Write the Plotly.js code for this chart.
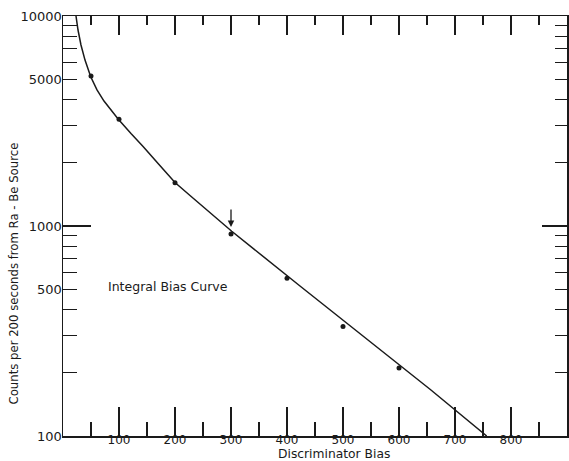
<!DOCTYPE html>
<html>
<head>
<meta charset="utf-8">
<script src="https://cdn.plot.ly/plotly-3.0.1.min.js"></script>
<style>
html,body{margin:0;padding:0;background:#fff;}
#chart{width:569px;height:461px;}
</style>
</head>
<body>
<div id="chart"></div>
<script>
// Measured data points
const biasPoints = [50, 100, 200, 300, 400, 500, 600];
const countPoints = [5180, 3220, 1607, 916, 564, 332, 211];
// Hand-drawn fitted curve
const curveBias = [23.2, 26.8, 32.1, 39.3, 49.5, 60.7, 73.2, 85.7, 98.8, 121.4, 143.4, 171.4, 200, 226.8, 250.5, 275, 301.3, 423.2, 655.4, 756.6];
const curveCounts = [10000, 8577, 7276, 6166, 5140, 4446, 3936, 3548, 3221, 2754, 2386, 1963, 1611, 1397, 1236, 1082, 944, 518, 167, 100];
// Axis ticks
const xMajor = [100, 200, 300, 400, 500, 600, 700, 800];
const xMajorLabels = ['100', '200', '300', '400', '500', '600', '700', '800'];
const yTicks = [100, 200, 300, 400, 500, 600, 700, 800, 900, 1000, 2000, 3000, 4000, 5000, 6000, 7000, 8000, 9000, 10000];
const yTickLabels = ['100', '', '', '', '500', '', '', '', '', '1000', '', '', '', '5000', '', '', '', '', '10000'];
const yLong = [1000];
const arrowBias = 300;
const arrowCount = 990;

const ink = '#1a1a1a';
const fontFam = 'DejaVu Sans, sans-serif';

const traces = [
  {x: curveBias, y: curveCounts, mode: 'lines', line: {color: ink, width: 1.5}, xaxis: 'x', yaxis: 'y', hoverinfo: 'skip'},
  {x: biasPoints, y: countPoints, mode: 'markers', marker: {color: ink, size: 5}, xaxis: 'x', yaxis: 'y'},
  {x: [], y: [], xaxis: 'x2', yaxis: 'y2', mode: 'markers'},
  {x: [], y: [], xaxis: 'x', yaxis: 'y3', mode: 'markers'},
  {x: [], y: [], xaxis: 'x2', yaxis: 'y4', mode: 'markers'}
];

const yBase = {type: 'log', range: [2, 4], fixedrange: true, showgrid: false, zeroline: false};

const layout = {
  width: 569, height: 461,
  margin: {l: 63, r: 2, t: 16, b: 25},
  paper_bgcolor: '#fff', plot_bgcolor: '#fff',
  showlegend: false,
  font: {family: fontFam, color: ink, size: 13},
  xaxis: {
    range: [0, 900], showgrid: false, zeroline: false,
    showline: true, linecolor: ink, linewidth: 1.5,
    ticks: 'inside', tickmode: 'array', tickvals: xMajor, ticktext: xMajorLabels,
    ticklen: 29, tickwidth: 1.3, tickcolor: ink, ticklabelstandoff: -8,
    minor: {ticks: 'inside', tickmode: 'linear', tick0: 0, dtick: 50, ticklen: 14, tickwidth: 1.2, tickcolor: ink},
    tickfont: {size: 12, family: fontFam, color: ink}
  },
  xaxis2: {
    overlaying: 'x', side: 'top', anchor: 'y2', range: [0, 900], showgrid: false, zeroline: false,
    showline: true, linecolor: ink, linewidth: 1.5,
    ticks: 'inside', tickmode: 'array', tickvals: xMajor, ticklen: 19, tickwidth: 1.3, tickcolor: ink,
    minor: {ticks: 'inside', tickmode: 'linear', tick0: 0, dtick: 50, ticklen: 9, tickwidth: 1.2, tickcolor: ink},
    showticklabels: false
  },
  yaxis: Object.assign({}, yBase, {
    showline: true, linecolor: ink, linewidth: 1.5,
    ticks: 'inside', tickmode: 'array', tickvals: yTicks, ticktext: yTickLabels,
    ticklen: 14, tickwidth: 1.3, tickcolor: ink, ticklabelstandoff: -3,
    tickfont: {size: 13, family: fontFam, color: ink}
  }),
  yaxis2: Object.assign({}, yBase, {
    overlaying: 'y', side: 'right', anchor: 'x2',
    showline: true, linecolor: ink, linewidth: 1.5,
    ticks: 'inside', tickmode: 'array', tickvals: yTicks, ticklen: 12, tickwidth: 1.3, tickcolor: ink,
    showticklabels: false
  }),
  yaxis3: Object.assign({}, yBase, {
    overlaying: 'y', side: 'left', anchor: 'x',
    showline: false, ticks: 'inside', tickmode: 'array', tickvals: yLong, ticklen: 28, tickwidth: 1.3, tickcolor: ink,
    showticklabels: false
  }),
  yaxis4: Object.assign({}, yBase, {
    overlaying: 'y', side: 'right', anchor: 'x2',
    showline: false, ticks: 'inside', tickmode: 'array', tickvals: yLong, ticklen: 25, tickwidth: 1.3, tickcolor: ink,
    showticklabels: false
  }),
  annotations: [
    {text: 'Counts per 200 seconds from Ra - Be Source', xref: 'paper', yref: 'paper', x: -0.0972, y: 0.387,
     textangle: -90, showarrow: false, xanchor: 'center', yanchor: 'middle', font: {size: 11.7, family: fontFam, color: ink}},
    {text: 'Discriminator Bias', xref: 'paper', yref: 'paper', x: 0.5377, y: -0.042,
     showarrow: false, xanchor: 'center', yanchor: 'middle', font: {size: 12.3, family: fontFam, color: ink}},
    {text: 'Integral Bias Curve', xref: 'x', yref: 'y', x: 77, y: Math.log10(514),
     showarrow: false, xanchor: 'left', yanchor: 'middle', font: {size: 12.5, family: fontFam, color: ink}},
    {text: '', xref: 'x', yref: 'y', x: arrowBias, y: Math.log10(arrowCount), showarrow: true,
     ax: 0, ay: -19, arrowhead: 2, arrowsize: 1, arrowwidth: 1.3, arrowcolor: ink, standoff: 0}
  ]
};

Plotly.newPlot('chart', traces, layout, {displayModeBar: false, staticPlot: true});
</script>
</body>
</html>
